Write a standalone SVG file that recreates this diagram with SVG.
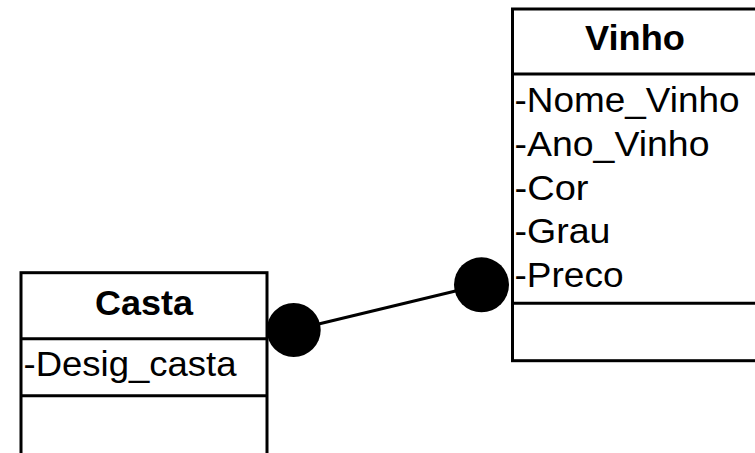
<svg xmlns="http://www.w3.org/2000/svg" width="755" height="453" viewBox="0 0 755 453">
<style>
.box{fill:#fff;stroke:#000;stroke-width:3}
.sep{stroke:#000;stroke-width:3}
.hdr{font-family:"Liberation Sans",Arial,sans-serif;font-weight:bold;font-size:35px;text-anchor:middle;fill:#000}
.att{font-family:"Liberation Sans",Arial,sans-serif;font-size:35px;fill:#000}
.conn{stroke:#000;stroke-width:3;fill:none}
.dot{fill:#000}
</style>
<rect width="755" height="453" fill="#fff"/>
<g id="vinho">
<rect class="box" x="512.5" y="9" width="250" height="351.7"/>
<line class="sep" x1="512.5" y1="74" x2="762.5" y2="74"/>
<line class="sep" x1="512.5" y1="303.3" x2="762.5" y2="303.3"/>
<text class="hdr" x="635" y="50" textLength="100" lengthAdjust="spacingAndGlyphs">Vinho</text>
<text class="att" x="514.5" y="111.7" textLength="225" lengthAdjust="spacingAndGlyphs">-Nome_Vinho</text>
<text class="att" x="514.5" y="156" textLength="195" lengthAdjust="spacingAndGlyphs">-Ano_Vinho</text>
<text class="att" x="514.5" y="200" textLength="74" lengthAdjust="spacingAndGlyphs">-Cor</text>
<text class="att" x="514.5" y="243.3" textLength="96" lengthAdjust="spacingAndGlyphs">-Grau</text>
<text class="att" x="514.5" y="286.7" textLength="109" lengthAdjust="spacingAndGlyphs">-Preco</text>
</g>
<g id="casta">
<rect class="box" x="21" y="272.7" width="246" height="200"/>
<line class="sep" x1="21" y1="338.7" x2="267" y2="338.7"/>
<line class="sep" x1="21" y1="395.7" x2="267" y2="395.7"/>
<text class="hdr" x="144" y="315" textLength="98" lengthAdjust="spacingAndGlyphs">Casta</text>
<text class="att" x="23.5" y="376" textLength="213" lengthAdjust="spacingAndGlyphs">-Desig_casta</text>
</g>
<g id="connectors">
<line class="conn" x1="293.7" y1="330" x2="481.5" y2="284.8"/>
<circle class="dot" cx="293.7" cy="330" r="27"/>
<circle class="dot" cx="481.5" cy="284.8" r="27.5"/>
</g>
</svg>
